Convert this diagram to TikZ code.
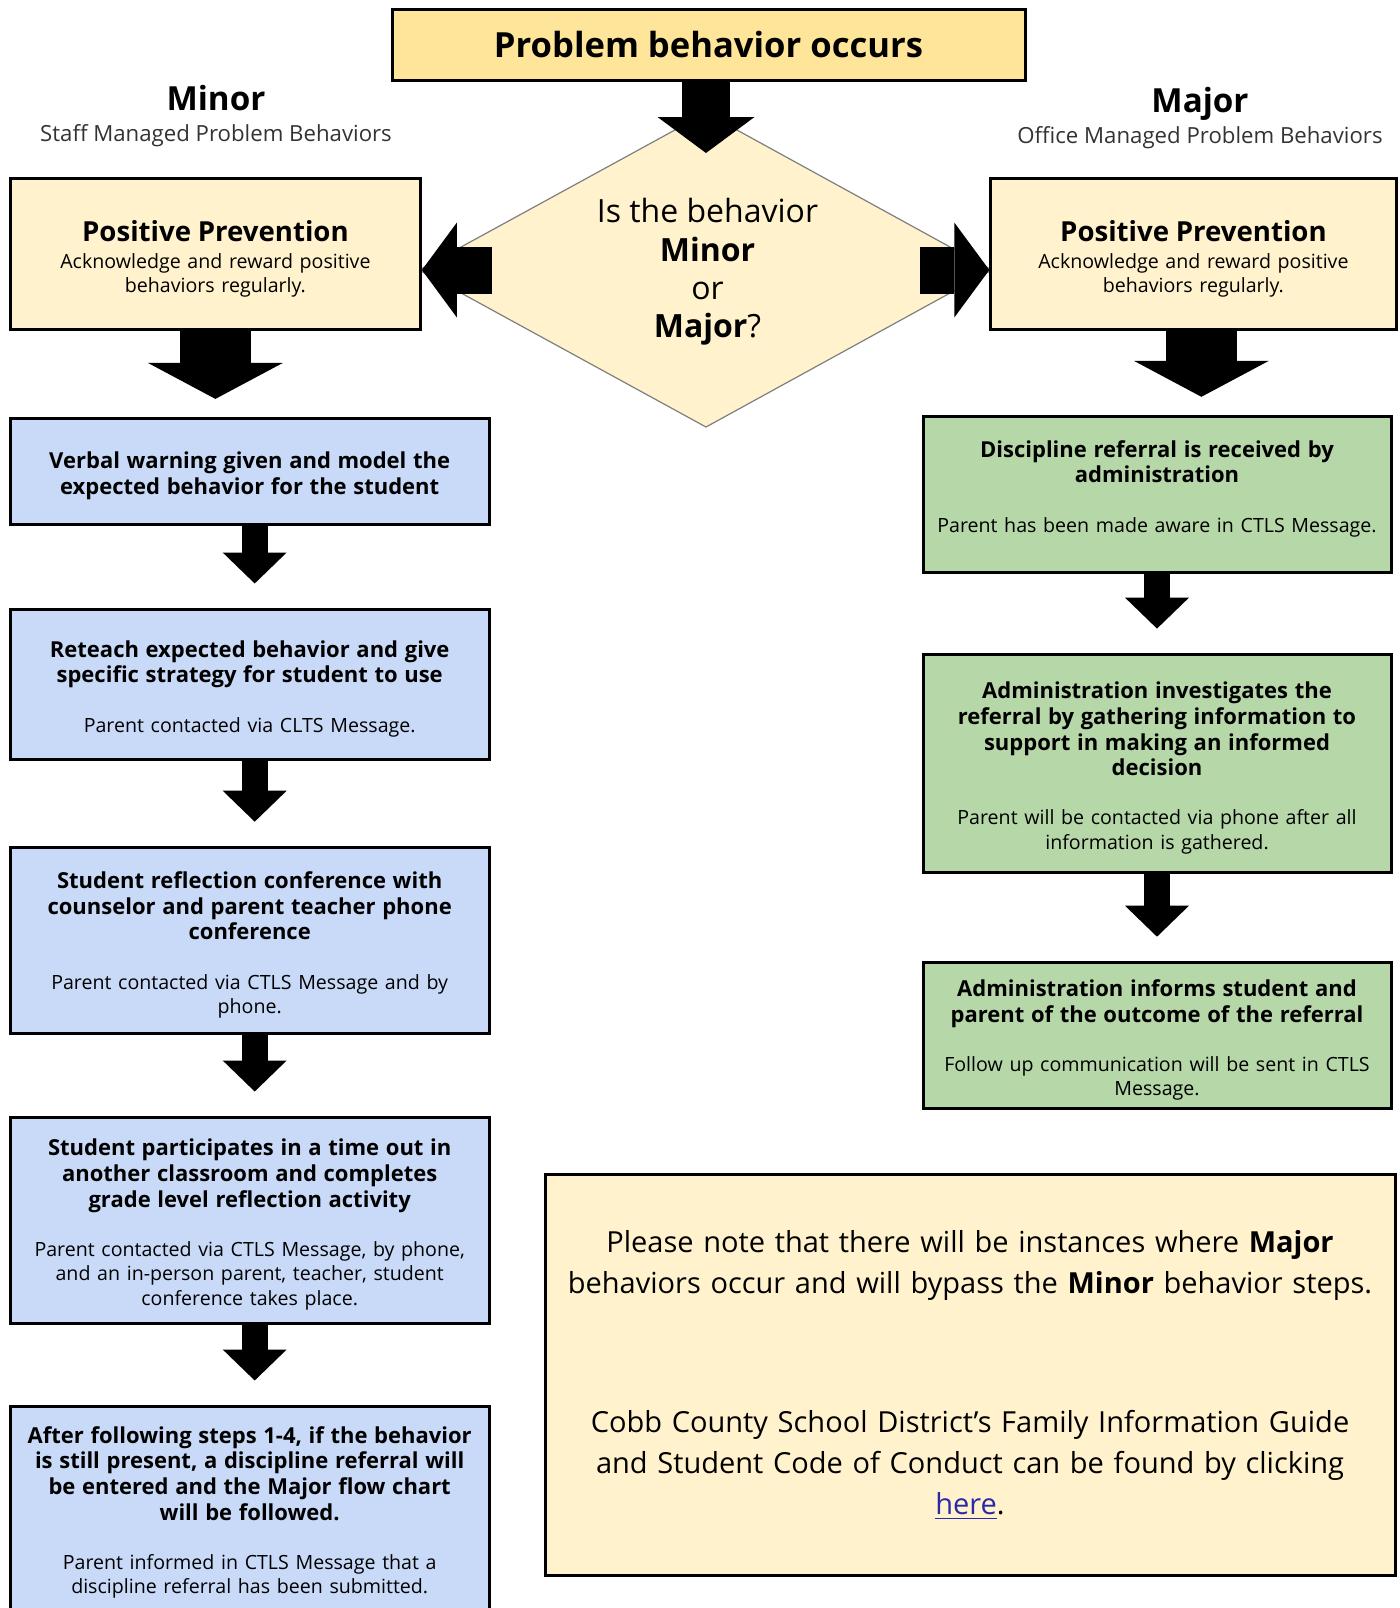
\documentclass[tikz,border=0pt]{standalone}
\usepackage{fontspec}
\setmainfont{Open Sans}
\usetikzlibrary{arrows.meta,calc}

\definecolor{topyellow}{HTML}{FFE599}
\definecolor{paleyellow}{HTML}{FFF2CC}
\definecolor{minorblue}{HTML}{C9DAF8}
\definecolor{majorgreen}{HTML}{B6D7A8}
\definecolor{diagray}{HTML}{7F7F7F}
\definecolor{subgray}{HTML}{333333}
\definecolor{linkblue}{HTML}{2A2AA8}

\newcommand{\steptitle}{\fontsize{11}{12.8}\selectfont\bfseries\rule{0pt}{13pt}}
\newcommand{\stepnote}{\fontsize{9.8}{12.3}\selectfont}
\newcommand{\pptitle}{\fontsize{13.8}{16}\selectfont\bfseries\rule{0pt}{15.6pt}}

\tikzset{
  stepbox/.style={draw=black, line width=1.5pt, align=center, inner sep=1pt},
  bluebox/.style={stepbox, fill=minorblue, minimum width=239.5pt, text width=234pt},
  greenbox/.style={stepbox, fill=majorgreen, minimum width=234pt, text width=228pt},
  ppbox/.style={stepbox, fill=paleyellow, minimum height=75.3pt, text width=196pt},
  fatarrow/.style n args={3}{line width=#1, -{Triangle[length=#2, width=#3, line width=0pt]}},
  bigdown/.style={fatarrow={35.5pt}{18pt}{67.5pt}, shorten >=9pt},
  smalldown/.style={fatarrow={12.8pt}{15.5pt}{32pt}, shorten >=12pt}
}

\begin{document}
\begin{tikzpicture}[x=0.5pt,y=0.5pt,yscale=-1]
\path[use as bounding box, fill=white] (0,0) rectangle (1400,1608);
\clip (0,0) rectangle (1400,1608);

% top and decision
\node[stepbox, fill=topyellow, minimum width=316.5pt, minimum height=35.5pt, font=\fontsize{17.3}{20}\selectfont\bfseries] (top) at (708.5,44.5) {Problem behavior occurs};
\coordinate (diac) at (706,270);
\draw[diagray, line width=0.6pt, fill=paleyellow] ($(diac)+(0,-157)$) -- ($(diac)+(286,0)$) -- ($(diac)+(0,157)$) -- ($(diac)+(-287,0)$) -- cycle;
\node[align=center, font=\fontsize{16}{19.2}\selectfont] (dia) at (707.5,272) {Is the behavior\\\textbf{Minor}\\or\\\textbf{Major}?};

% column heads
\node[font=\fontsize{16.6}{20}\selectfont\bfseries] (minorlbl) at (216,98.5) {Minor};
\node[font=\fontsize{11.1}{13}\selectfont, text=subgray] (minorsub) at (216,136) {Staff Managed Problem Behaviors};
\node[font=\fontsize{16.6}{20}\selectfont\bfseries] (majorlbl) at (1200,103.5) {Major};
\node[font=\fontsize{11.1}{13}\selectfont, text=subgray] (majorsub) at (1200,137.5) {Office Managed Problem Behaviors};

% positive prevention
\node[ppbox, minimum width=205pt] (ppL) at (215.4,253.7) {{\pptitle Positive Prevention\par}\vspace{2pt}{\fontsize{9.8}{11.8}\selectfont Acknowledge and reward positive\\behaviors regularly.\par}};
\node[ppbox, minimum width=202.6pt] (ppR) at (1193.4,253.7) {{\pptitle Positive Prevention\par}\vspace{2pt}{\fontsize{9.8}{11.8}\selectfont Acknowledge and reward positive\\behaviors regularly.\par}};

% minor steps
\node[bluebox, minimum height=52.8pt] (v1) at (249.7,471.2) {{\steptitle Verbal warning given and model the\\expected behavior for the student\par}};
\node[bluebox, minimum height=75pt] (v2) at (249.7,684) {{\steptitle Reteach expected behavior and give\\specific strategy for student to use\par}\vspace{12.3pt}{\stepnote Parent contacted via CLTS Message.\par}};
\node[bluebox, minimum height=93.3pt] (v3) at (249.7,940.5) {{\steptitle Student reflection conference with\\counselor and parent teacher phone\\conference\par}\vspace{12.3pt}{\stepnote Parent contacted via CTLS Message and by\\phone.\par}};
\node[bluebox, minimum height=103pt] (v4) at (249.7,1220) {{\steptitle Student participates in a time out in\\another classroom and completes\\grade level reflection activity\par}\vspace{12.3pt}{\stepnote Parent contacted via CTLS Message, by phone,\\and an in-person parent, teacher, student\\conference takes place.\par}};
\node[bluebox, minimum height=102pt] (v5) at (249.7,1508) {{\steptitle After following steps 1-4, if the behavior\\is still present, a discipline referral will\\be entered and the Major flow chart\\will be followed.\par}\vspace{12.3pt}{\stepnote Parent informed in CTLS Message that a\\discipline referral has been submitted.\par}};

% major steps
\node[greenbox, minimum height=78pt] (g1) at (1157,494.3) {{\steptitle Discipline referral is received by\\administration\par}\vspace{12.3pt}{\stepnote Parent has been made aware in CTLS Message.\rule[-12.7pt]{0pt}{0pt}\par}};
\node[greenbox, minimum height=109.4pt] (g2) at (1157,763.5) {{\steptitle Administration investigates the\\referral by gathering information to\\support in making an informed\\decision\par}\vspace{12.3pt}{\stepnote Parent will be contacted via phone after all\\information is gathered.\par}};
\node[greenbox, minimum height=73.3pt] (g3) at (1157,1035.5) {{\steptitle Administration informs student and\\parent of the outcome of the referral\par}\vspace{12.3pt}{\stepnote Follow up communication will be sent in CTLS\\Message.\par}};

% note
\node[stepbox, fill=paleyellow, minimum width=425pt, minimum height=200.8pt, text width=415pt, font=\fontsize{14.5}{20.5}\selectfont] (note) at (970,1375) {Please note that there will be instances where \textbf{Major}\\behaviors occur and will bypass the \textbf{Minor} behavior steps.\\[49pt]Cobb County School District’s Family Information Guide\\and Student Code of Conduct can be found by clicking\\{\color{linkblue}\underline{here}}.};

% arrows
\draw[fatarrow={24pt}{18pt}{48.5pt}] (top.south -| diac) -- ($(diac)+(0,-117)$);
\draw[fatarrow={23.5pt}{17.5pt}{47.5pt}] ($(diac)+(-214,0)$) -- (diac -| ppL.east);
\draw[fatarrow={23.5pt}{17.5pt}{47.5pt}] ($(diac)+(214,0)$) -- (diac -| ppR.west);
\draw[bigdown] (ppL.south) -- (ppL.south |- v1.north);
\draw[bigdown] ($(ppR.south)+(8,0)$) -- ($(ppR.south |- g1.north)+(8,0)$);
\foreach \a/\b in {v1/v2,v2/v3,v3/v4,v4/v5}
  \draw[smalldown] ($(\a.south)+(5,0)$) -- ($(\b.north)+(5,0)$);
\foreach \a/\b in {g1/g2,g2/g3}
  \draw[smalldown] (\a.south) -- (\b.north);

\end{tikzpicture}
\end{document}
